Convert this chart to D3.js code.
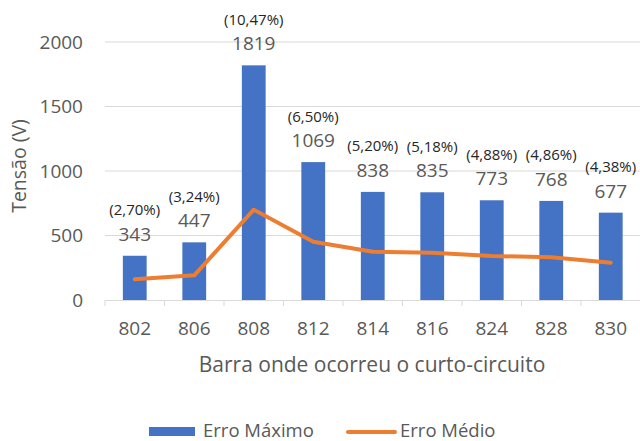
<!DOCTYPE html>
<html>
<head>
<meta charset="utf-8">
<script src="https://cdn.jsdelivr.net/npm/d3@7"></script>
<style>
  body { margin: 0; background: #fff; }
  text { font-family: "Open Sans", "Noto Sans", sans-serif; }
</style>
</head>
<body>
<div id="chart"></div>
<script>
const barras = ['802', '806', '808', '812', '814', '816', '824', '828', '830'];
const erroMaximo = [343, 447, 1819, 1069, 838, 835, 773, 768, 677];
const erroMedio = [160, 191, 700, 452, 374, 367, 341, 331, 289];
const percentuais = ['(2,70%)', '(3,24%)', '(10,47%)', '(6,50%)', '(5,20%)', '(5,18%)', '(4,88%)', '(4,86%)', '(4,38%)'];
const yTicks = [0, 500, 1000, 1500, 2000];

const width = 640, height = 441;
const margin = { top: 42, right: 0, bottom: 141, left: 105 };
const grey = '#595959';

const svg = d3.select('#chart').append('svg')
  .attr('width', width)
  .attr('height', height);

const x = d3.scaleBand()
  .domain(barras)
  .range([margin.left, 640.5])
  .paddingInner(0.6)
  .paddingOuter(0.3);
// band for ticks / gridlines (no padding)
const xCat = d3.scaleBand().domain(barras).range([margin.left, 640.5]);

const y = d3.scaleLinear()
  .domain([0, 2000])
  .range([300, margin.top]);

// gridlines
svg.append('g')
  .selectAll('line')
  .data(yTicks.filter(d => d > 0))
  .join('line')
  .attr('x1', margin.left)
  .attr('x2', 640)
  .attr('y1', d => y(d))
  .attr('y2', d => y(d))
  .attr('stroke', '#d9d9d9')
  .attr('stroke-width', 1);

// y axis labels
const yAxis = d3.axisLeft(y).tickValues(yTicks).tickFormat(d3.format('d')).tickSize(0).tickPadding(22);
svg.append('g')
  .attr('transform', `translate(${margin.left},0)`)
  .call(yAxis)
  .call(g => g.select('.domain').remove())
  .selectAll('text')
  .attr('fill', grey)
  .style('font-size', '19px');

// bars
svg.append('g')
  .selectAll('rect')
  .data(barras)
  .join('rect')
  .attr('x', d => x(d))
  .attr('width', x.bandwidth())
  .attr('y', (d, i) => y(erroMaximo[i]))
  .attr('height', (d, i) => y(0) - y(erroMaximo[i]))
  .attr('fill', '#4472c4');

// x axis baseline and ticks
const xAxis = d3.axisBottom(xCat).tickSize(0).tickPadding(22);
const gx = svg.append('g')
  .attr('transform', `translate(0,${y(0)})`)
  .call(xAxis);
gx.select('.domain').attr('stroke', '#d9d9d9');
gx.selectAll('text').attr('fill', grey).style('font-size', '19px');
gx.append('g')
  .selectAll('line')
  .data(d3.range(barras.length + 1))
  .join('line')
  .attr('x1', i => margin.left + i * xCat.step())
  .attr('x2', i => margin.left + i * xCat.step())
  .attr('y1', 0)
  .attr('y2', 6)
  .attr('stroke', '#d9d9d9');

// line
const line = d3.line()
  .x((d, i) => x(barras[i]) + x.bandwidth() / 2)
  .y(d => y(d));
svg.append('path')
  .datum(erroMedio)
  .attr('d', line)
  .attr('fill', 'none')
  .attr('stroke', '#ed7d31')
  .attr('stroke-width', 4)
  .attr('stroke-linejoin', 'round')
  .attr('stroke-linecap', 'round');

// data labels
const labels = svg.append('g')
  .selectAll('g')
  .data(barras)
  .join('g')
  .attr('transform', (d, i) => `translate(${x(d) + x.bandwidth() / 2},${y(erroMaximo[i])})`);
labels.append('text')
  .attr('text-anchor', 'middle')
  .attr('y', -15)
  .attr('fill', grey)
  .style('font-size', '19px')
  .text((d, i) => erroMaximo[i]);
labels.append('text')
  .attr('text-anchor', 'middle')
  .attr('y', -40.5)
  .attr('fill', '#262626')
  .style('font-size', '15px')
  .text((d, i) => percentuais[i]);

// axis titles
svg.append('text')
  .attr('x', 372)
  .attr('y', 372)
  .attr('text-anchor', 'middle')
  .attr('fill', grey)
  .style('font-size', '21px')
  .text('Barra onde ocorreu o curto-circuito');

svg.append('text')
  .attr('transform', 'translate(26,166) rotate(-90)')
  .attr('text-anchor', 'middle')
  .attr('fill', grey)
  .style('font-size', '19.5px')
  .text('Tensão (V)');

// legend
const legend = svg.append('g');
legend.append('rect')
  .attr('x', 149).attr('y', 427)
  .attr('width', 46).attr('height', 9)
  .attr('fill', '#4472c4');
legend.append('text')
  .attr('x', 203).attr('y', 437)
  .attr('fill', grey)
  .style('font-size', '18.5px')
  .text('Erro Máximo');
legend.append('line')
  .attr('x1', 348).attr('x2', 395)
  .attr('y1', 432).attr('y2', 432)
  .attr('stroke', '#ed7d31')
  .attr('stroke-width', 4)
  .attr('stroke-linecap', 'round');
legend.append('text')
  .attr('x', 400).attr('y', 437)
  .attr('fill', grey)
  .style('font-size', '18.5px')
  .text('Erro Médio');
</script>
</body>
</html>
